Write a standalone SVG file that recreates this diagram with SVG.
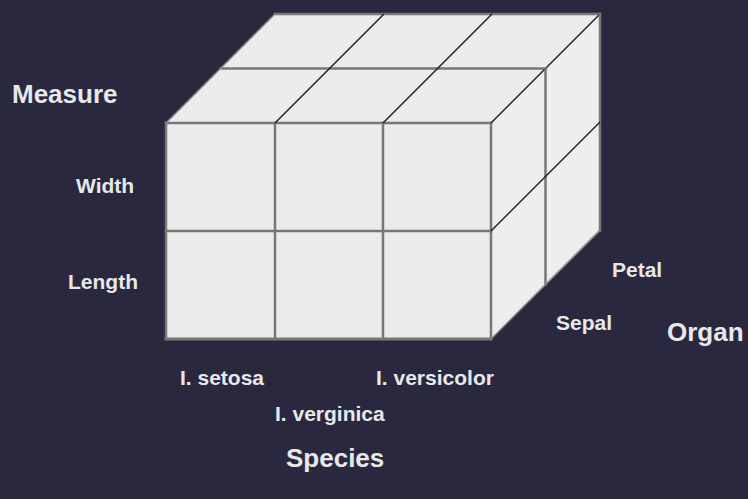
<svg xmlns="http://www.w3.org/2000/svg" width="748" height="499" viewBox="0 0 748 499">
  <style>
    .face { fill: #ebebeb; stroke: none; }
    .side { fill: #eeeeee; stroke: none; }
    .grid { stroke: #777777; stroke-width: 2.5; fill: none; stroke-linecap: square; }
    .diag { stroke: #1e1e1e; stroke-width: 1.5; fill: none; }
    .diag-light { stroke: #8a8a8a; stroke-width: 1.5; fill: none; }
    .title { font-family: "Liberation Sans", Arial, sans-serif; font-weight: bold; font-size: 26px; fill: #e8e8e8; }
    .label { font-family: "Liberation Sans", Arial, sans-serif; font-weight: bold; font-size: 21px; fill: #e8e8e8; }
  </style>
  <rect width="748" height="499" fill="#29283f"/>

  <g id="cube">
    <polygon class="face" points="166,123 491,123 600,14 275,14"/>
    <polygon class="side" points="491,123 600,14 600,231 491,339"/>
    <rect class="face" x="166" y="123" width="325" height="216"/>
  </g>

  <g id="connectors">
    <!-- front face grid -->
    <line class="grid" x1="166" y1="123" x2="491" y2="123"/>
    <line class="grid" x1="166" y1="231" x2="491" y2="231"/>
    <line class="grid" x1="166" y1="339" x2="491" y2="339" style="stroke-width:3"/>
    <line class="grid" x1="166" y1="123" x2="166" y2="339"/>
    <line class="grid" x1="275" y1="123" x2="275" y2="339"/>
    <line class="grid" x1="383" y1="123" x2="383" y2="339"/>
    <line class="grid" x1="491" y1="123" x2="491" y2="339"/>
    <!-- top face -->
    <line class="grid" x1="220.5" y1="68.5" x2="545.5" y2="68.5"/>
    <line class="grid" x1="275" y1="14" x2="600" y2="14"/>
    <line class="diag-light" x1="166" y1="123" x2="275" y2="14"/>
    <line class="diag" x1="275" y1="123" x2="384" y2="14"/>
    <line class="diag" x1="383" y1="123" x2="492" y2="14"/>
    <line class="diag" x1="491" y1="123" x2="600" y2="14"/>
    <!-- side face -->
    <line class="grid" x1="545.5" y1="68.5" x2="545.5" y2="284.5"/>
    <line class="grid" x1="600" y1="14" x2="600" y2="231"/>
    <line class="diag" x1="491" y1="231" x2="600" y2="122"/>
    <line class="diag-light" x1="491" y1="339" x2="600" y2="230"/>
  </g>

  <g id="labels">
    <text class="title" x="12" y="103">Measure</text>
    <text class="label" x="76" y="193">Width</text>
    <text class="label" x="68" y="289">Length</text>
    <text class="label" x="612" y="277">Petal</text>
    <text class="label" x="556" y="330">Sepal</text>
    <text class="title" x="667" y="341">Organ</text>
    <text class="label" x="180" y="385">I. setosa</text>
    <text class="label" x="376" y="385">I. versicolor</text>
    <text class="label" x="275" y="421">I. verginica</text>
    <text class="title" x="286" y="467">Species</text>
  </g>
</svg>
